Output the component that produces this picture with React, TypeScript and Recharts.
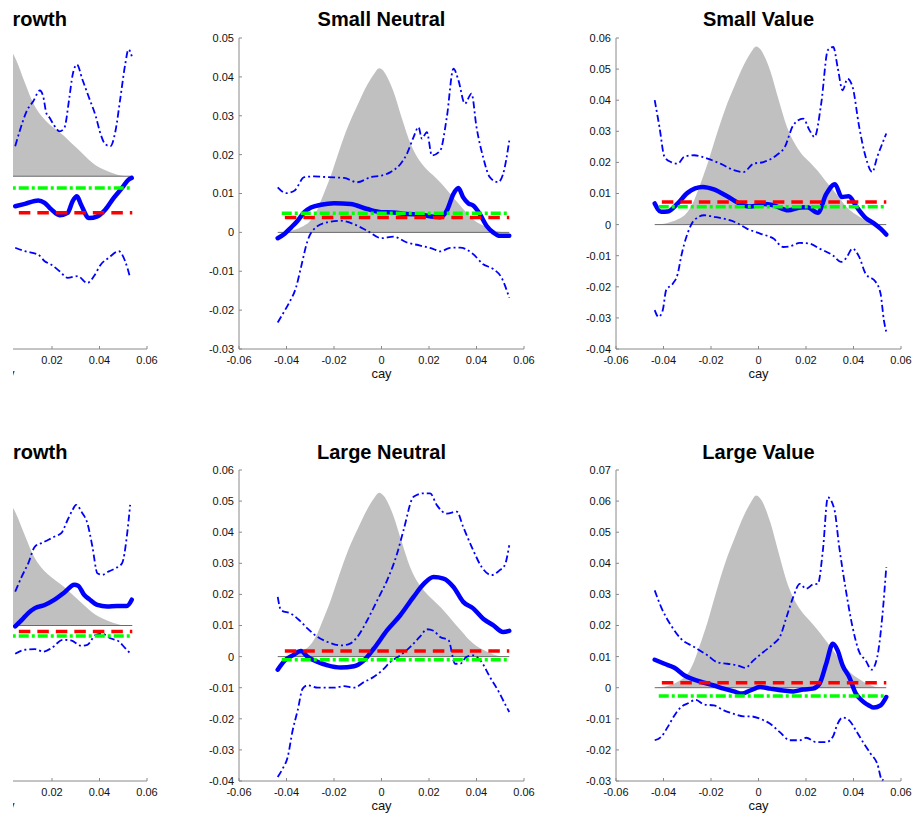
import React from 'react';
import { ComposedChart, Line, Area, XAxis, YAxis } from 'recharts';

type Pt = [number, number];

// ---------- shared axes / grids ----------
const xTicks = [-0.06, -0.04, -0.02, 0, 0.02, 0.04, 0.06];
const xTicksCut = [0.02, 0.04, 0.06];
const densX = [-0.043, -0.038, -0.034, -0.03, -0.027, -0.025, -0.0215, -0.018, -0.014, -0.01, -0.006, -0.003, -0.001, 0.001, 0.003, 0.005, 0.0085, 0.0125, 0.015, 0.018, 0.0215, 0.025, 0.028, 0.031, 0.034, 0.037, 0.04, 0.043, 0.046, 0.049, 0.052];
const zeroX = [-0.0437, 0.0538];
const redX = [-0.0407, 0.0538];
const greenX = [-0.042, 0.0538];

// ---------- Small Growth ----------
const sgTicks = [-0.05, -0.04, -0.03, -0.02, -0.01, 0, 0.01, 0.02, 0.03, 0.04];
const sgDens = [0, 0.0004, 0.0012, 0.0027, 0.0054, 0.0082, 0.0132, 0.0191, 0.0253, 0.0303, 0.035, 0.0377, 0.0389, 0.0381, 0.0362, 0.0335, 0.0272, 0.0206, 0.0179, 0.0156, 0.0136, 0.0117, 0.0097, 0.0078, 0.0058, 0.0039, 0.0025, 0.0016, 0.0008, 0.0002, 0];
const sgEst: Pt[] = [[0.0045, -0.0087], [0.0086, -0.008], [0.0142, -0.007], [0.0169, -0.0077], [0.0197, -0.0096], [0.0232, -0.0113], [0.0266, -0.0106], [0.0287, -0.0072], [0.0305, -0.0058], [0.0322, -0.0082], [0.0356, -0.0121], [0.0391, -0.0116], [0.0425, -0.0096], [0.046, -0.0063], [0.0495, -0.0034], [0.0522, -0.001], [0.0536, -0.0005]];
const sgUp: Pt[] = [[0.0045, 0.0087], [0.0066, 0.0135], [0.0093, 0.0188], [0.0121, 0.0217], [0.0149, 0.0248], [0.0163, 0.0231], [0.0176, 0.0183], [0.019, 0.0169], [0.0211, 0.0145], [0.0232, 0.013], [0.0252, 0.014], [0.0273, 0.0227], [0.0287, 0.0294], [0.0305, 0.0323], [0.0328, 0.028], [0.0356, 0.0227], [0.0384, 0.0174], [0.0405, 0.0121], [0.0425, 0.0092], [0.0446, 0.0087], [0.0467, 0.013], [0.0488, 0.0227], [0.0508, 0.0323], [0.0522, 0.0367], [0.0536, 0.0347]];
const sgLo: Pt[] = [[0.0045, -0.0207], [0.0086, -0.0217], [0.0142, -0.0227], [0.0169, -0.0246], [0.0197, -0.0256], [0.0232, -0.0275], [0.0266, -0.0294], [0.0308, -0.0289], [0.0349, -0.0309], [0.0377, -0.0289], [0.0405, -0.0256], [0.0439, -0.0236], [0.0481, -0.0217], [0.0508, -0.0246], [0.0529, -0.0294]];
const sgRed = -0.0106;
const sgGreen = -0.0034;

// ---------- Small Neutral ----------
const snTicks = [-0.03, -0.02, -0.01, 0, 0.01, 0.02, 0.03, 0.04, 0.05];
const snDens = [0, 0.0004, 0.0013, 0.003, 0.0059, 0.0089, 0.0143, 0.0207, 0.0274, 0.0329, 0.038, 0.0409, 0.0422, 0.0414, 0.0392, 0.0363, 0.0295, 0.0224, 0.0194, 0.0169, 0.0148, 0.0127, 0.0106, 0.0084, 0.0063, 0.0042, 0.0027, 0.0017, 0.0008, 0.0002, 0];
const snEst: Pt[] = [[-0.0437, -0.0015], [-0.0409, -0.0004], [-0.038, 0.0013], [-0.0353, 0.003], [-0.0325, 0.0052], [-0.0297, 0.0064], [-0.0255, 0.0071], [-0.02, 0.0075], [-0.013, 0.0073], [-0.006, 0.006], [0, 0.0052], [0.005, 0.0051], [0.0107, 0.0047], [0.0163, 0.0046], [0.0219, 0.004], [0.0247, 0.0039], [0.0275, 0.0056], [0.0303, 0.0099], [0.0324, 0.0114], [0.0344, 0.009], [0.0365, 0.0075], [0.0386, 0.0069], [0.0414, 0.0047], [0.0442, 0.0017], [0.047, 0], [0.0498, -0.0009], [0.0538, -0.0009]];
const snUp: Pt[] = [[-0.0437, 0.0116], [-0.0402, 0.0101], [-0.0367, 0.0107], [-0.0325, 0.0142], [-0.0283, 0.0144], [-0.0227, 0.0142], [-0.0158, 0.014], [-0.0102, 0.0129], [-0.0046, 0.0142], [0, 0.0146], [0.0038, 0.0155], [0.008, 0.0176], [0.0107, 0.0202], [0.0135, 0.0245], [0.0156, 0.0271], [0.017, 0.0241], [0.0191, 0.0258], [0.0212, 0.0198], [0.0247, 0.021], [0.0275, 0.0296], [0.0303, 0.0421], [0.0324, 0.0391], [0.0351, 0.0331], [0.0379, 0.0357], [0.04, 0.0271], [0.0428, 0.0193], [0.0456, 0.0142], [0.0491, 0.0129], [0.0512, 0.015], [0.0538, 0.0236]];
const snLo: Pt[] = [[-0.0437, -0.0232], [-0.0416, -0.021], [-0.0388, -0.018], [-0.036, -0.0142], [-0.0339, -0.009], [-0.0311, -0.0021], [-0.0276, 0.0013], [-0.0227, 0.0026], [-0.0172, 0.003], [-0.0116, 0.0021], [-0.006, 0.0004], [0, -0.0015], [0.005, -0.0011], [0.0107, -0.0026], [0.0163, -0.0034], [0.0219, -0.0043], [0.0247, -0.0049], [0.0289, -0.004], [0.0331, -0.0039], [0.0386, -0.0056], [0.0428, -0.0082], [0.047, -0.0094], [0.0505, -0.0116], [0.0538, -0.0168]];
const snRed = 0.0038;
const snGreen = 0.0049;

// ---------- Small Value ----------
const svTicks = [-0.04, -0.03, -0.02, -0.01, 0, 0.01, 0.02, 0.03, 0.04, 0.05, 0.06];
const svDens = [0, 0.0006, 0.0017, 0.004, 0.008, 0.012, 0.0195, 0.0281, 0.0372, 0.0447, 0.0516, 0.0556, 0.0573, 0.0562, 0.0533, 0.0493, 0.0401, 0.0304, 0.0264, 0.0229, 0.0201, 0.0172, 0.0143, 0.0115, 0.0086, 0.0057, 0.0037, 0.0023, 0.0011, 0.0003, 0];
const svEst: Pt[] = [[-0.0437, 0.0068], [-0.041, 0.0041], [-0.0382, 0.0042], [-0.034, 0.0068], [-0.0299, 0.0102], [-0.0235, 0.0121], [-0.0188, 0.0113], [-0.0132, 0.0091], [-0.0076, 0.0066], [-0.0035, 0.0058], [0.0021, 0.0066], [0.0063, 0.0062], [0.0125, 0.0046], [0.0174, 0.0055], [0.0205, 0.0056], [0.025, 0.0038], [0.0285, 0.0098], [0.0322, 0.013], [0.035, 0.0089], [0.038, 0.0091], [0.0412, 0.0058], [0.0452, 0.0021], [0.0486, 0.0004], [0.0515, -0.0014], [0.0538, -0.0032]];
const svUp: Pt[] = [[-0.0437, 0.04], [-0.0417, 0.0314], [-0.0396, 0.0218], [-0.0368, 0.0201], [-0.034, 0.0196], [-0.0313, 0.0218], [-0.0271, 0.0223], [-0.0215, 0.0212], [-0.016, 0.0196], [-0.0104, 0.0175], [-0.0063, 0.0169], [-0.0021, 0.0196], [0.0021, 0.0201], [0.0076, 0.0223], [0.0111, 0.025], [0.0146, 0.0319], [0.0188, 0.0341], [0.0215, 0.0303], [0.0236, 0.0282], [0.0264, 0.0389], [0.0292, 0.0561], [0.0315, 0.0571], [0.0333, 0.0507], [0.0354, 0.0432], [0.0375, 0.0469], [0.0396, 0.0443], [0.0424, 0.0314], [0.0451, 0.0218], [0.0479, 0.0169], [0.05, 0.0218], [0.0521, 0.026], [0.0538, 0.0293]];
const svLo: Pt[] = [[-0.0437, -0.0275], [-0.0421, -0.0297], [-0.0403, -0.0275], [-0.0389, -0.0211], [-0.0361, -0.019], [-0.034, -0.0158], [-0.0326, -0.0104], [-0.0299, -0.0029], [-0.0271, 0.0014], [-0.0229, 0.003], [-0.0188, 0.0025], [-0.0146, 0.0019], [-0.009, 0.0005], [-0.0049, -0.0013], [0.0007, -0.0029], [0.0063, -0.0045], [0.0104, -0.0072], [0.0132, -0.007], [0.0174, -0.0059], [0.0215, -0.0061], [0.0257, -0.0077], [0.0313, -0.0099], [0.0347, -0.012], [0.0368, -0.0109], [0.0396, -0.0077], [0.0424, -0.0104], [0.0451, -0.0158], [0.0493, -0.0184], [0.0514, -0.0222], [0.0528, -0.0308], [0.0538, -0.0345]];
const svRed = 0.0073;
const svGreen = 0.0057;

// ---------- Large Growth ----------
const lgTicks = [-0.05, -0.04, -0.03, -0.02, -0.01, 0, 0.01, 0.02, 0.03, 0.04, 0.05];
const lgDens = [0, 0.0004, 0.0012, 0.0029, 0.0058, 0.0087, 0.0141, 0.0203, 0.027, 0.0324, 0.0374, 0.0403, 0.0415, 0.0407, 0.0386, 0.0357, 0.0291, 0.022, 0.0191, 0.0166, 0.0145, 0.0125, 0.0104, 0.0083, 0.0062, 0.0042, 0.0027, 0.0017, 0.0008, 0.0002, 0];
const lgEst: Pt[] = [[0.0045, -0.0003], [0.0073, 0.0018], [0.01, 0.004], [0.0128, 0.0056], [0.0169, 0.0066], [0.0211, 0.0083], [0.0252, 0.0106], [0.0294, 0.0131], [0.031, 0.0128], [0.0335, 0.0099], [0.0356, 0.0085], [0.0391, 0.0066], [0.0432, 0.0061], [0.0474, 0.0063], [0.0515, 0.0063], [0.0536, 0.0083]];
const lgUp: Pt[] = [[0.0045, 0.0109], [0.0073, 0.0158], [0.01, 0.02], [0.0128, 0.0254], [0.0156, 0.0265], [0.0183, 0.0275], [0.0211, 0.0286], [0.0239, 0.0297], [0.0266, 0.034], [0.0287, 0.0372], [0.0301, 0.0388], [0.0328, 0.0361], [0.0349, 0.0329], [0.037, 0.0254], [0.0391, 0.0168], [0.0412, 0.0163], [0.0439, 0.0174], [0.0467, 0.0184], [0.0495, 0.02], [0.0515, 0.0286], [0.0529, 0.0388]];
const lgLo: Pt[] = [[0.0045, -0.0091], [0.0086, -0.0078], [0.0128, -0.0076], [0.0163, -0.0084], [0.0197, -0.0073], [0.0246, -0.0046], [0.028, -0.0048], [0.0322, -0.0065], [0.0349, -0.0062], [0.0384, -0.003], [0.0412, -0.0027], [0.0446, -0.0041], [0.0481, -0.0051], [0.0508, -0.0073], [0.0529, -0.0089]];
const lgRed = -0.0019;
const lgGreen = -0.0034;

// ---------- Large Neutral ----------
const lnTicks = [-0.04, -0.03, -0.02, -0.01, 0, 0.01, 0.02, 0.03, 0.04, 0.05, 0.06];
const lnDens = [0, 0.0005, 0.0016, 0.0037, 0.0074, 0.0111, 0.0179, 0.0258, 0.0343, 0.0411, 0.0474, 0.0511, 0.0527, 0.0516, 0.049, 0.0453, 0.0369, 0.0279, 0.0242, 0.0211, 0.0184, 0.0158, 0.0132, 0.0105, 0.0079, 0.0053, 0.0034, 0.0021, 0.0011, 0.0003, 0];
const lnEst: Pt[] = [[-0.0437, -0.0042], [-0.0409, -0.0014], [-0.0374, 0.0004], [-0.0339, 0.0018], [-0.0311, -0.0001], [-0.0269, -0.0017], [-0.0227, -0.0028], [-0.0172, -0.0035], [-0.0116, -0.0031], [-0.0074, -0.0012], [-0.0032, 0.0026], [0.0024, 0.0085], [0.0079, 0.0133], [0.0135, 0.0192], [0.0177, 0.0233], [0.0219, 0.0256], [0.0261, 0.0251], [0.0303, 0.0224], [0.0344, 0.0176], [0.0386, 0.0155], [0.0428, 0.0122], [0.047, 0.0101], [0.0512, 0.0079], [0.0538, 0.0083]];
const lnUp: Pt[] = [[-0.0437, 0.0192], [-0.0423, 0.0149], [-0.0381, 0.0138], [-0.0346, 0.0117], [-0.0311, 0.009], [-0.0269, 0.0063], [-0.0227, 0.0047], [-0.0172, 0.0036], [-0.0137, 0.004], [-0.0102, 0.0063], [-0.006, 0.0117], [-0.0018, 0.0181], [0.0024, 0.0246], [0.0066, 0.0332], [0.0093, 0.0407], [0.0135, 0.0514], [0.0177, 0.0525], [0.0205, 0.0525], [0.0233, 0.0487], [0.0275, 0.046], [0.0317, 0.0466], [0.0344, 0.0417], [0.0386, 0.0342], [0.0421, 0.0289], [0.0463, 0.0262], [0.0498, 0.0278], [0.0519, 0.0294], [0.0538, 0.0358]];
const lnLo: Pt[] = [[-0.0437, -0.0387], [-0.0416, -0.036], [-0.0395, -0.0323], [-0.0374, -0.0237], [-0.0353, -0.0173], [-0.0332, -0.0103], [-0.0311, -0.0092], [-0.0269, -0.01], [-0.0199, -0.01], [-0.0158, -0.0095], [-0.0116, -0.01], [-0.0074, -0.0082], [-0.0032, -0.0065], [0.0003, -0.0044], [0.0038, -0.0017], [0.0079, 0.0004], [0.0121, 0.0031], [0.0163, 0.0065], [0.0191, 0.0088], [0.0219, 0.0083], [0.0247, 0.0063], [0.0282, 0.0053], [0.031, -0.0023], [0.0331, -0.0023], [0.0358, -0.0001], [0.0386, 0.0004], [0.0421, -0.0017], [0.0456, -0.0065], [0.0498, -0.0119], [0.0519, -0.0151], [0.0538, -0.0178]];
const lnRed = 0.0018;
const lnGreen = -0.001;

// ---------- Large Value ----------
const lvTicks = [-0.03, -0.02, -0.01, 0, 0.01, 0.02, 0.03, 0.04, 0.05, 0.06, 0.07];
const lvDens = [0, 0.0006, 0.0019, 0.0043, 0.0087, 0.013, 0.021, 0.0303, 0.0402, 0.0482, 0.0556, 0.0599, 0.0618, 0.0606, 0.0575, 0.0531, 0.0433, 0.0328, 0.0284, 0.0247, 0.0216, 0.0185, 0.0155, 0.0124, 0.0093, 0.0062, 0.004, 0.0025, 0.0012, 0.0003, 0];
const lvEst: Pt[] = [[-0.0437, 0.009], [-0.0396, 0.0077], [-0.0354, 0.0064], [-0.0313, 0.004], [-0.0271, 0.0026], [-0.0229, 0.0016], [-0.0188, 0.0007], [-0.0146, -0.0003], [-0.0104, -0.0012], [-0.0069, -0.0019], [-0.0035, -0.0009], [0.0007, 0.0002], [0.0049, -0.0003], [0.0104, -0.0009], [0.0146, -0.0012], [0.0188, -0.0006], [0.0229, -0.0003], [0.0257, 0.0013], [0.0285, 0.0077], [0.0313, 0.0141], [0.0333, 0.012], [0.0354, 0.0072], [0.0382, 0.0034], [0.041, -0.0019], [0.0438, -0.0043], [0.0465, -0.0057], [0.0486, -0.0064], [0.0514, -0.0057], [0.0538, -0.003]];
const lvUp: Pt[] = [[-0.0437, 0.0313], [-0.041, 0.0259], [-0.0368, 0.02], [-0.0326, 0.0157], [-0.0271, 0.0131], [-0.0215, 0.0104], [-0.0174, 0.0082], [-0.0132, 0.0077], [-0.009, 0.0072], [-0.0056, 0.0064], [-0.0021, 0.0088], [0.0021, 0.0115], [0.0063, 0.0141], [0.009, 0.0163], [0.0118, 0.0227], [0.0146, 0.0291], [0.0174, 0.0334], [0.0201, 0.0318], [0.0229, 0.0332], [0.025, 0.0334], [0.0271, 0.0441], [0.0292, 0.0612], [0.0319, 0.0575], [0.034, 0.0452], [0.0368, 0.0313], [0.0396, 0.0195], [0.0424, 0.0115], [0.0451, 0.0088], [0.0476, 0.0058], [0.05, 0.0099], [0.0521, 0.0227], [0.0538, 0.0388]];
const lvLo: Pt[] = [[-0.0437, -0.0169], [-0.041, -0.0158], [-0.0382, -0.0126], [-0.0354, -0.0089], [-0.0326, -0.0062], [-0.0299, -0.0051], [-0.0264, -0.0039], [-0.0229, -0.0054], [-0.0188, -0.0057], [-0.0146, -0.0073], [-0.0104, -0.0084], [-0.0063, -0.0092], [-0.0035, -0.0092], [0.0007, -0.01], [0.0049, -0.0116], [0.009, -0.0143], [0.0132, -0.0169], [0.0174, -0.0169], [0.0201, -0.0161], [0.0243, -0.0175], [0.0285, -0.0175], [0.0313, -0.0158], [0.0333, -0.0116], [0.0354, -0.0096], [0.0382, -0.0105], [0.041, -0.0137], [0.0444, -0.018], [0.0472, -0.0212], [0.05, -0.0244], [0.0521, -0.0298], [0.0528, -0.0287]];
const lvRed = 0.0016;
const lvGreen = -0.0027;

// ---------- layout ----------
const PLOT_W = 285;
const PLOT_H = 311;
const Y_W = 55;
const M_TOP = 40;
const M_RIGHT = 20;
const X_H = 45;

type PanelDef = {
  title: string;
  cut: boolean;
  left: number;
  top: number;
  titleTop: number;
  yDomain: [number, number];
  yTicks: number[];
  dens: number[];
  est: Pt[];
  up: Pt[];
  lo: Pt[];
  red: number;
  green: number;
};

const panels: PanelDef[] = [
  { title: 'Small Growth', cut: true, left: -138, top: 38, titleTop: 8, yDomain: [-0.05, 0.04], yTicks: sgTicks, dens: sgDens, est: sgEst, up: sgUp, lo: sgLo, red: sgRed, green: sgGreen },
  { title: 'Small Neutral', cut: false, left: 239, top: 38, titleTop: 8, yDomain: [-0.03, 0.05], yTicks: snTicks, dens: snDens, est: snEst, up: snUp, lo: snLo, red: snRed, green: snGreen },
  { title: 'Small Value', cut: false, left: 616, top: 38, titleTop: 8, yDomain: [-0.04, 0.06], yTicks: svTicks, dens: svDens, est: svEst, up: svUp, lo: svLo, red: svRed, green: svGreen },
  { title: 'Large Growth', cut: true, left: -138, top: 470, titleTop: 441, yDomain: [-0.05, 0.05], yTicks: lgTicks, dens: lgDens, est: lgEst, up: lgUp, lo: lgLo, red: lgRed, green: lgGreen },
  { title: 'Large Neutral', cut: false, left: 239, top: 470, titleTop: 441, yDomain: [-0.04, 0.06], yTicks: lnTicks, dens: lnDens, est: lnEst, up: lnUp, lo: lnLo, red: lnRed, green: lnGreen },
  { title: 'Large Value', cut: false, left: 616, top: 470, titleTop: 441, yDomain: [-0.03, 0.07], yTicks: lvTicks, dens: lvDens, est: lvEst, up: lvUp, lo: lvLo, red: lvRed, green: lvGreen },
];

const fmt = (v: number) => {
  const r = Math.round(v * 100) / 100;
  return r === 0 ? '0' : r.toFixed(2);
};

function buildRows(p: PanelDef) {
  const map = new Map<number, any>();
  const put = (x: number, key: string, y: number) => {
    const k = Math.round(x * 1e5) / 1e5;
    let r = map.get(k);
    if (!r) {
      r = { x: k };
      map.set(k, r);
    }
    r[key] = y;
  };
  densX.forEach((x, i) => put(x, 'dens', p.dens[i]));
  p.est.forEach(([x, y]) => put(x, 'est', y));
  p.up.forEach(([x, y]) => put(x, 'up', y));
  p.lo.forEach(([x, y]) => put(x, 'lo', y));
  zeroX.forEach((x) => put(x, 'zero', 0));
  redX.forEach((x) => put(x, 'red', p.red));
  greenX.forEach((x) => put(x, 'green', p.green));
  return Array.from(map.values()).sort((a, b) => a.x - b.x);
}

const BLUE = '#0000ff';
const tickStyle = { fill: '#111', fontSize: 11 };

function Panel({ p }: { p: PanelDef }) {
  const rows = buildRows(p);
  return (
    <>
      <div
        style={{
          position: 'absolute',
          left: p.cut ? p.left - 2 : p.left,
          top: p.titleTop,
          width: PLOT_W,
          textAlign: 'center',
          fontWeight: 'bold',
          fontSize: 20,
          lineHeight: '22px',
          color: '#000',
          whiteSpace: 'nowrap',
        }}
      >
        {p.title}
      </div>
      <div style={{ position: 'absolute', left: p.left - Y_W, top: p.top - M_TOP }}>
        <ComposedChart
          width={Y_W + PLOT_W + M_RIGHT}
          height={M_TOP + PLOT_H + X_H}
          data={rows}
          margin={{ top: M_TOP, right: M_RIGHT, left: 0, bottom: 0 }}
        >
          <XAxis
            type="number"
            dataKey="x"
            domain={[-0.06, 0.06]}
            ticks={p.cut ? xTicksCut : xTicks}
            interval={0}
            tickFormatter={fmt}
            tickSize={-3}
            tickMargin={10}
            height={X_H}
            stroke="#8a8a8a"
            tick={tickStyle}
            label={{ value: 'cay', position: 'insideBottom', offset: 16, fill: '#111', fontSize: 13 }}
          />
          <YAxis
            type="number"
            domain={p.yDomain}
            ticks={p.yTicks}
            interval={0}
            tickFormatter={fmt}
            tickSize={-3}
            tickMargin={8}
            width={Y_W}
            stroke="#8a8a8a"
            tick={p.cut ? false : tickStyle}
          />
          <Area
            type="monotone"
            dataKey="dens"
            connectNulls
            baseValue={0}
            stroke="none"
            fill="#c0c0c0"
            fillOpacity={1}
            isAnimationActive={false}
            dot={false}
            activeDot={false}
          />
          <Line type="linear" dataKey="zero" connectNulls stroke="#6a6a6a" strokeWidth={1} dot={false} activeDot={false} isAnimationActive={false} />
          <Line type="monotone" dataKey="up" connectNulls stroke={BLUE} strokeWidth={1.8} strokeDasharray="7 3 2 3" dot={false} activeDot={false} isAnimationActive={false} />
          <Line type="monotone" dataKey="lo" connectNulls stroke={BLUE} strokeWidth={1.8} strokeDasharray="7 3 2 3" dot={false} activeDot={false} isAnimationActive={false} />
          <Line type="monotone" dataKey="est" connectNulls stroke={BLUE} strokeWidth={4.5} strokeLinejoin="round" strokeLinecap="round" dot={false} activeDot={false} isAnimationActive={false} />
          <Line type="linear" dataKey="red" connectNulls stroke="#ff0000" strokeWidth={3.5} strokeDasharray="11.5 7" dot={false} activeDot={false} isAnimationActive={false} />
          <Line type="linear" dataKey="green" connectNulls stroke="#00ff00" strokeWidth={3.5} strokeDasharray="10 3 3 3" dot={false} activeDot={false} isAnimationActive={false} />
        </ComposedChart>
      </div>
    </>
  );
}

export default function App() {
  return (
    <div
      style={{
        position: 'absolute',
        left: 0,
        top: 0,
        width: 922,
        height: 817,
        overflow: 'hidden',
        background: '#fff',
        fontFamily: '"Liberation Sans", Arial, Helvetica, sans-serif',
      }}
    >
      {panels.map((p) => (
        <Panel key={p.title} p={p} />
      ))}
      <div style={{ position: 'absolute', left: 0, top: 0, width: 13, height: 817, background: '#fff', zIndex: 5 }} />
    </div>
  );
}
